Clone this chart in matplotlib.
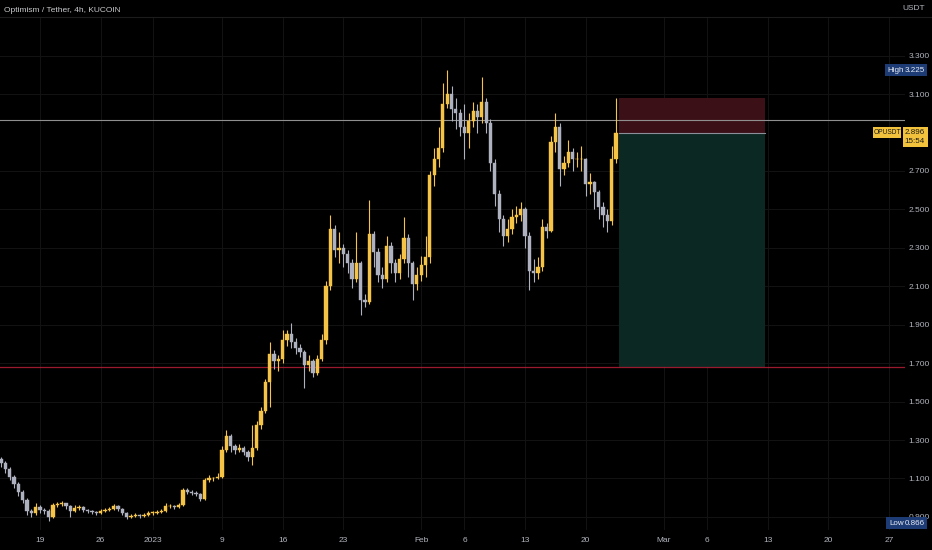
import datetime as dt
import matplotlib
matplotlib.use("Agg")
import matplotlib.pyplot as plt
import matplotlib.dates as mdates
from matplotlib import font_manager
from matplotlib.patches import Rectangle

# OP/USDT in 12h steps starting 14 Dec 2022 12:00
start = dt.datetime(2022, 12, 14, 12)
first_open = 1.20
closes = [1.18, 1.15, 1.11, 1.07, 1.03, 0.99, 0.93, 0.92, 0.95, 0.935,
          0.93, 0.90, 0.96, 0.965, 0.97, 0.955, 0.93, 0.945, 0.95, 0.935,
          0.93, 0.925, 0.92, 0.93, 0.935, 0.94, 0.955, 0.94, 0.92, 0.90,
          0.905, 0.91, 0.905, 0.91, 0.92, 0.92, 0.925, 0.93, 0.955, 0.955,
          0.95, 0.96, 1.04, 1.03, 1.025, 1.02, 0.995, 1.09, 1.10, 1.10,
          1.11, 1.25, 1.32, 1.27, 1.25, 1.26, 1.24, 1.21, 1.26, 1.38,
          1.45, 1.60, 1.75, 1.71, 1.72, 1.82, 1.85, 1.81, 1.78, 1.76,
          1.69, 1.71, 1.65, 1.72, 1.82, 2.10, 2.40, 2.29, 2.30, 2.27,
          2.22, 2.14, 2.22, 2.03, 2.02, 2.37, 2.28, 2.16, 2.14, 2.31,
          2.22, 2.17, 2.24, 2.35, 2.22, 2.11, 2.16, 2.21, 2.25, 2.68,
          2.76, 2.82, 3.05, 3.10, 3.02, 3.00, 2.93, 2.90, 2.96, 3.01,
          2.98, 3.06, 2.95, 2.74, 2.58, 2.45, 2.36, 2.40, 2.46, 2.47,
          2.50, 2.36, 2.18, 2.17, 2.20, 2.41, 2.39, 2.85, 2.93, 2.71,
          2.74, 2.80, 2.76, 2.76, 2.76, 2.63, 2.64, 2.59, 2.51, 2.47,
          2.44, 2.76, 2.896]
highs = [1.21, 1.19, 1.16, 1.12, 1.08, 1.04, 1.00, 0.94, 0.97, 0.96,
         0.945, 0.94, 0.975, 0.98, 0.985, 0.975, 0.96, 0.96, 0.96, 0.955,
         0.94, 0.935, 0.93, 0.94, 0.945, 0.95, 0.965, 0.96, 0.945, 0.925,
         0.915, 0.92, 0.915, 0.92, 0.93, 0.93, 0.935, 0.94, 0.97, 0.965,
         0.96, 0.975, 1.05, 1.05, 1.04, 1.035, 1.025, 1.10, 1.12, 1.11,
         1.13, 1.27, 1.35, 1.33, 1.28, 1.28, 1.27, 1.25, 1.38, 1.40,
         1.47, 1.62, 1.81, 1.77, 1.74, 1.87, 1.87, 1.91, 1.83, 1.80,
         1.77, 1.74, 1.72, 1.74, 1.85, 2.13, 2.47, 2.42, 2.38, 2.32,
         2.29, 2.24, 2.38, 2.23, 2.06, 2.55, 2.39, 2.30, 2.20, 2.36,
         2.33, 2.24, 2.27, 2.46, 2.37, 2.23, 2.20, 2.26, 2.36, 2.70,
         2.82, 2.93, 3.16, 3.225, 3.14, 3.08, 3.02, 3.05, 3.00, 3.06,
         3.05, 3.19, 3.08, 2.97, 2.76, 2.60, 2.47, 2.45, 2.50, 2.52,
         2.54, 2.51, 2.38, 2.24, 2.25, 2.45, 2.43, 2.88, 3.00, 2.95,
         2.78, 2.86, 2.82, 2.80, 2.83, 2.77, 2.69, 2.65, 2.60, 2.54,
         2.50, 2.83, 3.08]
lows = [1.16, 1.13, 1.09, 1.05, 1.01, 0.97, 0.91, 0.90, 0.91, 0.92,
        0.915, 0.88, 0.895, 0.95, 0.955, 0.94, 0.90, 0.925, 0.935, 0.925,
        0.92, 0.915, 0.91, 0.915, 0.925, 0.93, 0.935, 0.93, 0.91, 0.89,
        0.895, 0.90, 0.895, 0.90, 0.905, 0.91, 0.915, 0.92, 0.925, 0.945,
        0.94, 0.945, 0.955, 1.02, 1.015, 1.01, 0.985, 0.99, 1.08, 1.085,
        1.095, 1.10, 1.24, 1.24, 1.23, 1.24, 1.22, 1.19, 1.17, 1.25,
        1.36, 1.44, 1.47, 1.67, 1.66, 1.70, 1.79, 1.78, 1.75, 1.73,
        1.57, 1.66, 1.63, 1.64, 1.71, 1.80, 2.08, 2.25, 2.22, 2.20,
        2.17, 2.09, 2.12, 1.95, 1.99, 2.01, 2.20, 2.12, 2.09, 2.12,
        2.17, 2.12, 2.14, 2.22, 2.15, 2.03, 2.08, 2.13, 2.15, 2.22,
        2.62, 2.72, 2.80, 3.03, 2.96, 2.92, 2.88, 2.76, 2.82, 2.93,
        2.90, 2.95, 2.90, 2.70, 2.52, 2.38, 2.31, 2.33, 2.37, 2.43,
        2.44, 2.30, 2.08, 2.12, 2.14, 2.18, 2.35, 2.38, 2.80, 2.62,
        2.68, 2.72, 2.70, 2.72, 2.70, 2.57, 2.58, 2.50, 2.45, 2.41,
        2.38, 2.42, 2.74]

price_ticks = [0.9, 1.1, 1.3, 1.5, 1.7, 1.9, 2.1, 2.3, 2.5, 2.7, 3.1, 3.3]
date_ticks = [dt.datetime(2022, 12, 19), dt.datetime(2022, 12, 26), dt.datetime(2023, 1, 1),
              dt.datetime(2023, 1, 9), dt.datetime(2023, 1, 16), dt.datetime(2023, 1, 23),
              dt.datetime(2023, 2, 1), dt.datetime(2023, 2, 6), dt.datetime(2023, 2, 13),
              dt.datetime(2023, 2, 20), dt.datetime(2023, 3, 1), dt.datetime(2023, 3, 6),
              dt.datetime(2023, 3, 13), dt.datetime(2023, 3, 20), dt.datetime(2023, 3, 27)]
date_labels = ['19', '26', '2023', '9', '16', '23', 'Feb', '6', '13', '20', 'Mar', '6', '13', '20', '27']

# drawn levels / short position
line_level = 2.965
stop_level = 1.68
entry = 2.90
stop = 3.08
target = 1.68
pos_start = dt.datetime(2023, 2, 23, 20)
pos_end = dt.datetime(2023, 3, 12, 16)
high_val = 3.225
low_val = 0.866
last_price = 2.896

UP = '#f5c447'
DOWN = '#aeb1bf'
TXT = '#b2b5be'
BG = '#000000'

# narrow font like the tradingview scale if we have one
names = {f.name for f in font_manager.fontManager.ttflist}
if 'Liberation Sans Narrow' in names:
    FONT = dict(family=['Liberation Sans Narrow'])
else:
    FONT = dict(family=['Liberation Sans'])

fig = plt.figure(figsize=(9.32, 5.5), dpi=100, facecolor=BG)
ax = fig.add_axes([0, 20 / 550, 905 / 932, 513 / 550], facecolor=BG)

x0 = mdates.date2num(start)
xs = [x0 + 0.5 * i for i in range(len(closes))]
opens = [first_open] + closes[:-1]  # each candle opens where the previous closed

for x, o, h, l, c in zip(xs, opens, highs, lows, closes):
    col = UP if c >= o else DOWN
    ax.vlines(x, l, h, color=col, lw=0.8, zorder=3)
    ax.bar(x, max(abs(c - o), 0.004), bottom=min(o, c), width=0.38,
           color=col, edgecolor=col, lw=0.3, zorder=4)

# position tool
p0 = mdates.date2num(pos_start)
p1 = mdates.date2num(pos_end)
ax.add_patch(Rectangle((p0, entry), p1 - p0, stop - entry, facecolor='#3b1117', edgecolor='none', zorder=2))
ax.add_patch(Rectangle((p0, target), p1 - p0, entry - target, facecolor='#0c2822', edgecolor='none', zorder=2))
ax.plot([p0, p1], [entry, entry], color='#8a8f99', lw=0.8, zorder=2.5)

ax.axhline(line_level, color='#8f8f8f', lw=0.8, zorder=2.5)
ax.axhline(stop_level, color='#c2203a', lw=0.9, alpha=0.8, zorder=2.5)

xmin = mdates.date2num(dt.datetime(2022, 12, 14)) + 0.38
xmax = mdates.date2num(dt.datetime(2023, 3, 28)) + 0.85
ax.set_xlim(xmin, xmax)
ax.set_ylim(0.832, 3.501)

ax.set_xticks([mdates.date2num(d) for d in date_ticks])
ax.set_xticklabels(date_labels, **FONT)
ax.set_yticks(price_ticks)
ax.set_yticklabels(['%.3f' % p for p in price_ticks], **FONT)
ax.yaxis.tick_right()
ax.tick_params(axis='both', length=0, colors=TXT, labelsize=6)
ax.tick_params(axis='x', pad=5)
ax.tick_params(axis='y', pad=2.5)
ax.grid(True, color='#121212', lw=0.8, zorder=0)
for s in ax.spines.values():
    s.set_visible(False)

# header
fig.text(4 / 932, 1 - 11 / 550, 'Optimism / Tether, 4h, KUCOIN', color='#c8c9cc',
         fontsize=6, va='center', ha='left', **FONT)
fig.add_artist(plt.Line2D([0, 1], [1 - 17 / 550, 1 - 17 / 550], color='#1c1c1c', lw=0.8))
fig.text(914 / 932, 1 - 8 / 550, 'USDT', color=TXT, fontsize=6, ha='center', va='center', **FONT)

# price scale badges
def badge(x, y, w, h, fc):
    fig.add_artist(Rectangle((x / 932, 1 - (y + h) / 550), w / 932, h / 550,
                             transform=fig.transFigure, facecolor=fc, edgecolor='none', zorder=5))

def label(x, y, s, col, ha='left', size=5.8):
    fig.text(x / 932, 1 - y / 550, s, color=col, fontsize=size, va='center', ha=ha, zorder=6, **FONT)

y_hi = 550 - ax.transData.transform((0, high_val))[1]
badge(885, y_hi - 6, 42, 12, '#1d3c75')
label(887, y_hi, 'High', '#e8ecf5')
label(925, y_hi, '%.3f' % high_val, '#e8ecf5', ha='right')

y_lo = 550 - ax.transData.transform((0, low_val))[1]
badge(886, y_lo - 6, 41, 12, '#1d3c75')
label(889, y_lo, 'Low', '#e8ecf5')
label(925, y_lo, '%.3f' % low_val, '#e8ecf5', ha='right')

y_lp = 550 - ax.transData.transform((0, last_price))[1]
badge(873, y_lp - 6, 28, 11, '#f2c23c')
label(887, y_lp - 0.5, 'OPUSDT', '#1a1a1a', ha='center', size=4.8)
badge(903, y_lp - 6, 25, 20, '#f2c23c')
label(925, y_lp - 0.5, '%.3f' % last_price, '#1a1a1a', ha='right')
label(925, y_lp + 8.5, '15:54', '#1a1a1a', ha='right')

fig.savefig('out.png', dpi=100, facecolor=BG)
